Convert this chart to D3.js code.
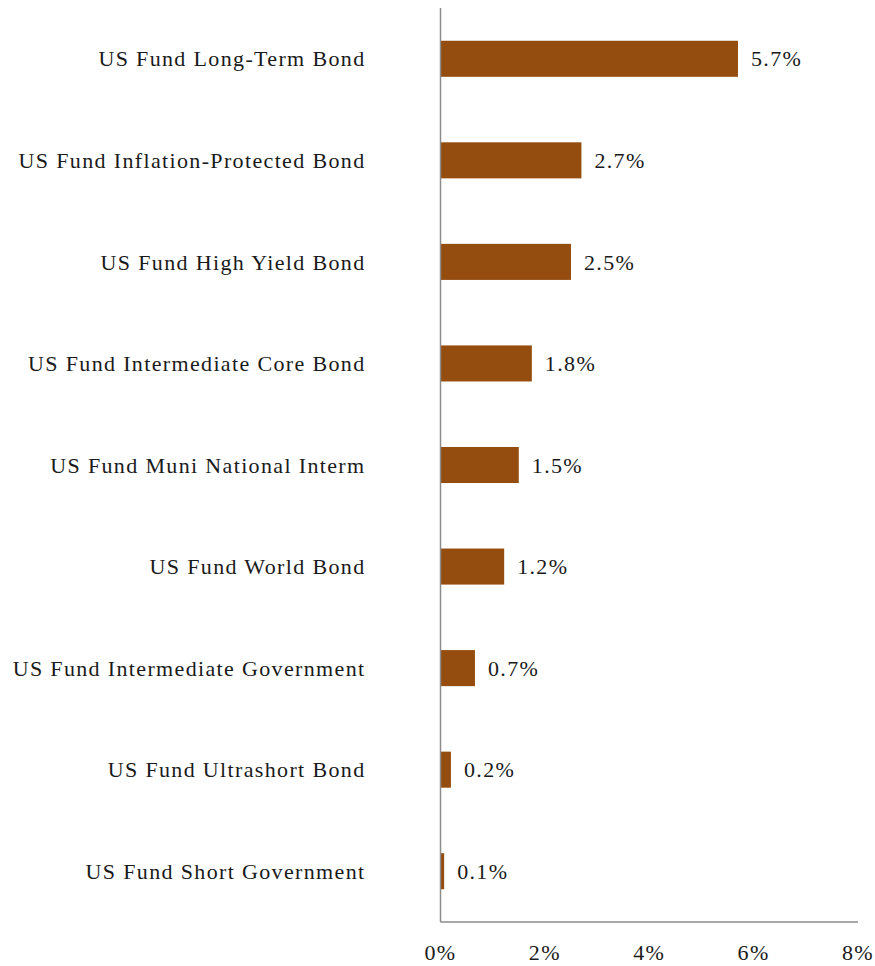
<!DOCTYPE html>
<html>
<head>
<meta charset="utf-8">
<script src="https://cdn.jsdelivr.net/npm/d3@7"></script>
<style>
  body { margin: 0; background: #fff; }
  svg { display: block; }
  text { font-family: "Liberation Serif", "DejaVu Serif", serif; fill: #1a1a1a; letter-spacing: 1.35px; }
</style>
</head>
<body>
<svg id="chart" width="875" height="966"></svg>
<script>
const categories = [
  'US Fund Long-Term Bond',
  'US Fund Inflation-Protected Bond',
  'US Fund High Yield Bond',
  'US Fund Intermediate Core Bond',
  'US Fund Muni National Interm',
  'US Fund World Bond',
  'US Fund Intermediate Government',
  'US Fund Ultrashort Bond',
  'US Fund Short Government'
]
const values = [5.7, 2.7, 2.5, 1.75, 1.5, 1.22, 0.66, 0.2, 0.07]
const valueLabels = ['5.7%', '2.7%', '2.5%', '1.8%', '1.5%', '1.2%', '0.7%', '0.2%', '0.1%']
const xTicks = [0, 2, 4, 6, 8]

const svg = d3.select('#chart')
const margin = { top: 8, right: 17, bottom: 44, left: 440.5 }
const width = 875, height = 966

// x 比例尺
const x = d3.scaleLinear()
  .domain([0, 8])
  .range([margin.left, width - margin.right])

// y 分类带
const y = d3.scaleBand()
  .domain(categories)
  .range([margin.top, height - margin.bottom])
  .paddingInner(0.645)
  .paddingOuter(0.3225)

const barColor = '#954c0f'

svg.append('g')
  .selectAll('rect')
  .data(categories)
  .join('rect')
  .attr('x', x(0))
  .attr('y', d => y(d))
  .attr('width', (d, i) => x(values[i]) - x(0))
  .attr('height', y.bandwidth())
  .attr('fill', barColor)

// 数值标签
svg.append('g')
  .selectAll('text')
  .data(categories)
  .join('text')
  .attr('x', (d, i) => x(values[i]) + 13)
  .attr('y', d => y(d) + y.bandwidth() / 2)
  .attr('dy', '0.35em')
  .style('font-size', '22px')
  .text((d, i) => valueLabels[i])

// 分类标签
svg.append('g')
  .selectAll('text')
  .data(categories)
  .join('text')
  .attr('x', margin.left - 75)
  .attr('y', d => y(d) + y.bandwidth() / 2)
  .attr('dy', '0.35em')
  .attr('text-anchor', 'end')
  .style('font-size', '22px')
  .text(d => d)

// 坐标轴线
const axisY = height - margin.bottom
svg.append('line')
  .attr('x1', x(0)).attr('x2', x(0))
  .attr('y1', margin.top).attr('y2', axisY)
  .attr('stroke', '#8c8c8c').attr('stroke-width', 1.5)
svg.append('line')
  .attr('x1', x(0)).attr('x2', x(8))
  .attr('y1', axisY).attr('y2', axisY)
  .attr('stroke', '#8c8c8c').attr('stroke-width', 1.5)

// x 轴刻度标签
svg.append('g')
  .selectAll('text')
  .data(xTicks)
  .join('text')
  .attr('x', d => x(d))
  .attr('y', 960)
  .attr('text-anchor', 'middle')
  .style('font-size', '22px')
  .text(d => d + '%')
</script>
</body>
</html>
